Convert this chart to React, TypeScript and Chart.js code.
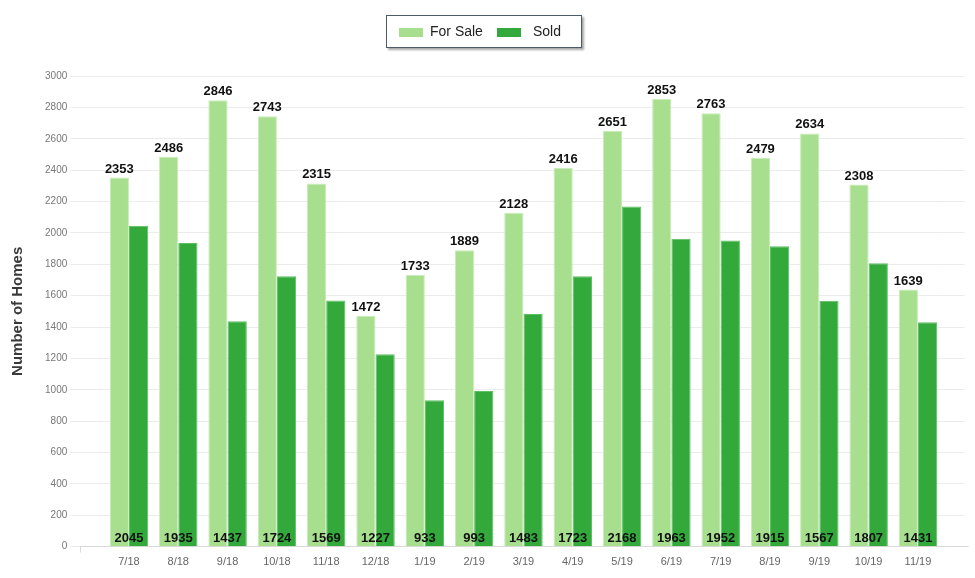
import React, { useEffect, useRef } from "react";
import { Chart, registerables } from "chart.js";

Chart.register(...registerables);

const categories = ["7/18", "8/18", "9/18", "10/18", "11/18", "12/18", "1/19", "2/19", "3/19", "4/19", "5/19", "6/19", "7/19", "8/19", "9/19", "10/19", "11/19"];
const forSale = [2353, 2486, 2846, 2743, 2315, 1472, 1733, 1889, 2128, 2416, 2651, 2853, 2763, 2479, 2634, 2308, 1639];
const sold = [2045, 1935, 1437, 1724, 1569, 1227, 933, 993, 1483, 1723, 2168, 1963, 1952, 1915, 1567, 1807, 1431];
const seriesNames = ["For Sale", "Sold"];
const yMax = 3000;
const yStep = 200;

const FONT = "'Liberation Sans', Arial, sans-serif";
const LIGHT = "#a7df8f";
const DARK = "#33a93b";

const align = (p: number) => Math.round(p + 0.5) - 0.5;

const extrasPlugin = {
  id: "extras",
  beforeDatasetsDraw(chart: any) {
    const { ctx, chartArea, scales } = chart;
    const y = scales.y;
    ctx.save();
    ctx.strokeStyle = "#ececec";
    ctx.lineWidth = 1;
    y.ticks.forEach((t: any) => {
      const py = align(y.getPixelForValue(t.value));
      ctx.beginPath();
      ctx.moveTo(chartArea.right, py);
      ctx.lineTo(chartArea.right + 22, py);
      ctx.stroke();
    });
    const by = align(chartArea.bottom);
    ctx.strokeStyle = "#d9d9d9";
    ctx.beginPath();
    ctx.moveTo(80, by);
    ctx.lineTo(chartArea.right + 26, by);
    ctx.stroke();
    ctx.beginPath();
    ctx.moveTo(80.5, by);
    ctx.lineTo(80.5, by + 6);
    ctx.stroke();
    ctx.restore();
  },
  afterDatasetsDraw(chart: any) {
    const { ctx, scales } = chart;
    const x = scales.x;
    const y = scales.y;
    const m0 = chart.getDatasetMeta(0);
    ctx.save();
    ctx.fillStyle = "#111";
    ctx.font = `bold 13px ${FONT}`;
    ctx.textAlign = "center";
    ctx.textBaseline = "alphabetic";
    m0.data.forEach((bar: any, i: number) => {
      ctx.fillText(String(forSale[i]), bar.x, bar.y - 5);
    });
    sold.forEach((v, i) => {
      ctx.fillText(String(v), x.getPixelForValue(i), y.getPixelForValue(0) - 4.5);
    });
    ctx.restore();
  },
};

export default function App() {
  const ref = useRef<HTMLCanvasElement | null>(null);
  useEffect(() => {
    if (!ref.current) return;
    const chart = new Chart(ref.current, {
      type: "bar",
      data: {
        labels: categories,
        datasets: [
          {
            label: seriesNames[0],
            data: forSale,
            backgroundColor: LIGHT,
            borderColor: "#c9ecb9",
            borderWidth: 1,
            categoryPercentage: 0.78,
            barPercentage: 1,
          },
          {
            label: seriesNames[1],
            data: sold,
            backgroundColor: DARK,
            borderColor: "#5cbf62",
            borderWidth: 1,
            categoryPercentage: 0.78,
            barPercentage: 1,
          },
        ],
      },
      options: {
        responsive: false,
        maintainAspectRatio: false,
        animation: false,
        layout: { padding: { left: 5, right: 32.4, top: 76, bottom: 0 } },
        plugins: {
          legend: { display: false },
          tooltip: { enabled: false },
        },
        scales: {
          x: {
            grid: { display: false, drawTicks: false },
            border: { display: false },
            ticks: { color: "#666", font: { family: FONT, size: 11 }, padding: 9, maxRotation: 0 },
            afterFit: (s: any) => {
              s.height = 31.3;
            },
          },
          y: {
            min: 0,
            max: yMax,
            border: { display: false },
            grid: { color: "#ececec", tickLength: 34, drawTicks: true },
            ticks: {
              stepSize: yStep,
              color: "#777",
              font: { family: FONT, size: 10 },
              padding: 3,
              callback: (v: any) => String(v),
            },
            title: {
              display: true,
              text: "Number of Homes",
              color: "#3a3a3a",
              font: { family: FONT, size: 15, weight: "bold" },
            },
            afterFit: (s: any) => {
              s.width = 99.3;
            },
          },
        },
      },
      plugins: [extrasPlugin],
    });
    return () => chart.destroy();
  }, []);

  return (
    <div style={{ position: "absolute", left: 0, top: 0, width: 975, height: 578, background: "#fff" }}>
      <canvas ref={ref} width={975} height={578} style={{ position: "absolute", left: 0, top: 0 }} />
      <div
        style={{
          position: "absolute",
          left: 386,
          top: 15,
          width: 194,
          height: 31,
          border: "1px solid #4d5b69",
          boxShadow: "2px 2px 2px rgba(0,0,0,0.35)",
          background: "#fff",
          fontFamily: FONT,
          fontSize: 14,
          color: "#222",
        }}
      >
        <div style={{ position: "absolute", left: 12, top: 12, width: 24, height: 9, background: LIGHT }} />
        <div style={{ position: "absolute", left: 43, top: 7, lineHeight: "17px", whiteSpace: "nowrap" }}>{seriesNames[0]}</div>
        <div style={{ position: "absolute", left: 110, top: 12, width: 24, height: 9, background: DARK }} />
        <div style={{ position: "absolute", left: 146, top: 7, lineHeight: "17px", whiteSpace: "nowrap" }}>{seriesNames[1]}</div>
      </div>
    </div>
  );
}
